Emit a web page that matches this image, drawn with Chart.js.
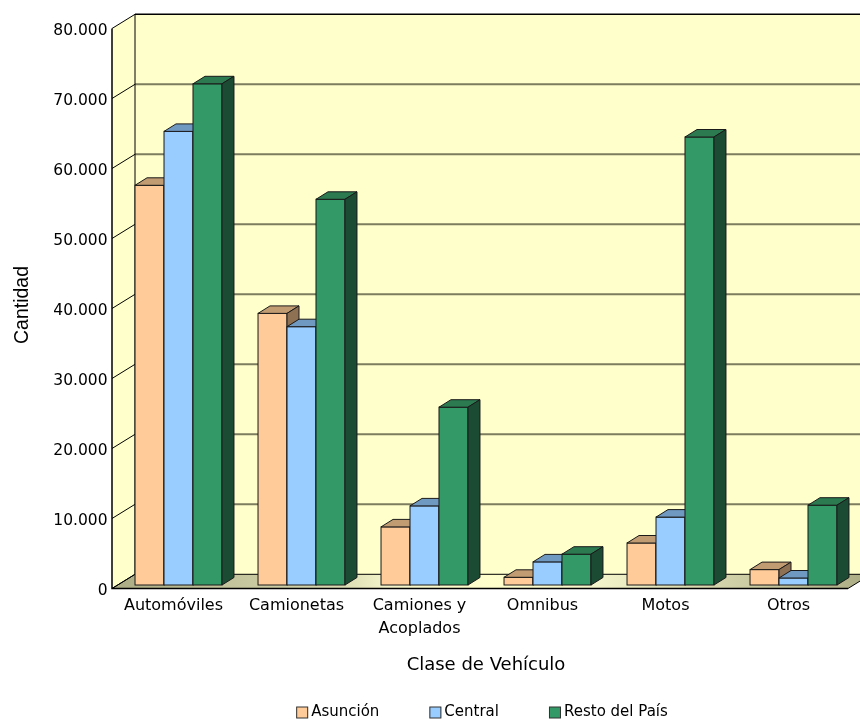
<!DOCTYPE html>
<html><head><meta charset="utf-8">
<script src="https://cdn.jsdelivr.net/npm/chart.js@4"></script>
<style>html,body{margin:0;padding:0;background:#fff}#wrap{width:860px;height:719px;position:relative}</style>
</head><body><div id="wrap"><canvas id="c"></canvas></div>
<script>
const categories = ['Automóviles', 'Camionetas', ['Camiones y', 'Acoplados'], 'Omnibus', 'Motos', 'Otros'];
const seriesNames = ['Asunción', 'Central', 'Resto del País'];
const asuncion = [57100, 38800, 8300, 1100, 6000, 2200];
const central  = [64800, 36900, 11300, 3300, 9700, 1000];
const resto    = [71600, 55100, 25400, 4400, 64000, 11400];
const yTickLabels = ['0', '10.000', '20.000', '30.000', '40.000', '50.000', '60.000', '70.000', '80.000'];
const xTitle = 'Clase de Vehículo';
const yTitle = 'Cantidad';

const frontColors = ['#FFCC99', '#99CCFF', '#339966'];
const topColors   = ['#C19B72', '#7099C2', '#2B7A50'];
const sideColors  = ['#8E7153', '#4E7094', '#1C4B33'];

const BAR_DX = 12, BAR_DY = -7.5;
const FRONT_X = -5, FRONT_DY = 3.5, BACK_X = 18, BACK_DY = -10.7;

const wallsPlugin = {
  id: 'walls',
  beforeDatasetsDraw(chart) {
    const ctx = chart.ctx, ca = chart.chartArea, ys = chart.scales.y;
    const W = chart.width;
    const yv = v => ys.getPixelForValue(v);
    const fx = ca.left + FRONT_X, bx = ca.left + BACK_X;
    const fy = v => yv(v) + FRONT_DY, by = v => yv(v) + BACK_DY;
    const vmax = ys.max, vmin = ys.min;
    ctx.save();
    ctx.fillStyle = '#FFFFCC';
    ctx.fillRect(bx, by(vmax), W - bx, by(vmin) - by(vmax));
    ctx.beginPath();
    ctx.moveTo(fx, fy(vmax)); ctx.lineTo(bx, by(vmax)); ctx.lineTo(bx, by(vmin)); ctx.lineTo(fx, fy(vmin)); ctx.closePath();
    ctx.fillStyle = '#FFFFCC'; ctx.fill();
    const frx = ca.right - 7;
    const g = ctx.createLinearGradient(fx, 0, frx + (bx - fx), 0);
    g.addColorStop(0, '#ABAB84');
    g.addColorStop(0.3, '#DADAB2');
    g.addColorStop(0.36, '#F4F4CA');
    g.addColorStop(0.5, '#FFFFCC');
    g.addColorStop(0.64, '#F4F4CA');
    g.addColorStop(1, '#ABAB84');
    ctx.beginPath();
    ctx.moveTo(fx, fy(vmin)); ctx.lineTo(bx, by(vmin)); ctx.lineTo(frx + (bx - fx), by(vmin)); ctx.lineTo(frx, fy(vmin)); ctx.closePath();
    ctx.fillStyle = g; ctx.fill();
    ctx.strokeStyle = '#000'; ctx.lineWidth = 1; ctx.stroke();
    const ticks = ys.ticks.map(t => t.value);
    ctx.strokeStyle = '#7C7C5E'; ctx.lineWidth = 2;
    ticks.forEach(v => {
      if (v <= vmin || v >= vmax) return;
      ctx.beginPath(); ctx.moveTo(bx, by(v)); ctx.lineTo(W, by(v)); ctx.stroke();
    });
    ctx.strokeStyle = '#000'; ctx.lineWidth = 1;
    ticks.forEach(v => {
      ctx.beginPath(); ctx.moveTo(fx, fy(v)); ctx.lineTo(bx, by(v)); ctx.stroke();
    });
    ctx.lineWidth = 1.5;
    ctx.beginPath(); ctx.moveTo(bx, by(vmax)); ctx.lineTo(W, by(vmax)); ctx.stroke();
    ctx.lineWidth = 1;
    ctx.beginPath(); ctx.moveTo(bx, by(vmax)); ctx.lineTo(bx, by(vmin)); ctx.stroke();
    ctx.lineWidth = 1.5;
    ctx.beginPath(); ctx.moveTo(fx, fy(vmax)); ctx.lineTo(fx, fy(vmin)); ctx.lineTo(frx, fy(vmin)); ctx.stroke();
    ctx.restore();
  }
};

const bars3dPlugin = {
  id: 'bars3d',
  afterDatasetsDraw(chart) {
    const ctx = chart.ctx;
    const metas = chart.data.datasets.map((d, i) => chart.getDatasetMeta(i));
    ctx.save();
    ctx.strokeStyle = '#1A1A1A'; ctx.lineWidth = 1; ctx.lineJoin = 'miter';
    for (let i = 0; i < categories.length; i++) {
      metas.forEach((meta, d) => {
        const el = meta.data[i];
        const p = el.getProps(['x', 'y', 'base', 'width'], true);
        const l = p.x - p.width / 2, r = p.x + p.width / 2, t = Math.min(p.y, p.base), b = Math.max(p.y, p.base);
        ctx.fillStyle = frontColors[d];
        ctx.fillRect(l, t, r - l, b - t);
        ctx.strokeRect(l, t, r - l, b - t);
        ctx.beginPath();
        ctx.moveTo(l, t); ctx.lineTo(l + BAR_DX, t + BAR_DY); ctx.lineTo(r + BAR_DX, t + BAR_DY); ctx.lineTo(r, t); ctx.closePath();
        ctx.fillStyle = topColors[d]; ctx.fill(); ctx.stroke();
        ctx.beginPath();
        ctx.moveTo(r, t); ctx.lineTo(r + BAR_DX, t + BAR_DY); ctx.lineTo(r + BAR_DX, b + BAR_DY); ctx.lineTo(r, b); ctx.closePath();
        ctx.fillStyle = sideColors[d]; ctx.fill(); ctx.stroke();
      });
    }
    ctx.restore();
  }
};

const legendPlugin = {
  id: 'legend3d',
  afterDraw(chart) {
    const ctx = chart.ctx, ca = chart.chartArea;
    ctx.save();
    ctx.font = '15px "DejaVu Sans"';
    ctx.textBaseline = 'middle';
    const box = 12, gapText = 3, gap = 50;
    const widths = seriesNames.map(n => box + gapText + ctx.measureText(n).width);
    const total = widths.reduce((a, b) => a + b, 0) + gap * (seriesNames.length - 1);
    let x = (ca.left + ca.right) / 2 - 4 - total / 2;
    const yc = 712.5;
    seriesNames.forEach((n, i) => {
      ctx.fillStyle = frontColors[i];
      ctx.fillRect(x, yc - 5.5, box, 11);
      ctx.strokeStyle = '#333'; ctx.lineWidth = 1;
      ctx.strokeRect(x + 0.5, yc - 5.5, box - 1, 11);
      ctx.fillStyle = '#000';
      ctx.fillText(n, x + box + gapText, yc);
      x += widths[i] + gap;
    });
    ctx.restore();
  }
};

const seriesData = [asuncion, central, resto];
new Chart(document.getElementById('c'), {
  type: 'bar',
  data: {
    labels: categories,
    datasets: seriesNames.map((n, i) => ({
      label: n,
      data: seriesData[i],
      backgroundColor: frontColors[i],
      borderColor: '#1A1A1A',
      borderWidth: 1,
      categoryPercentage: 0.707,
      barPercentage: 1
    }))
  },
  options: {
    responsive: true,
    maintainAspectRatio: false,
    animation: false,
    devicePixelRatio: 1,
    layout: { padding: { top: 25, right: 5, bottom: 30, left: 0 } },
    plugins: { legend: { display: false }, tooltip: { enabled: false } },
    scales: {
      x: {
        grid: { display: false, drawTicks: false },
        border: { display: false },
        ticks: { color: '#000', font: { family: 'DejaVu Sans', size: 16, lineHeight: 1.4 }, padding: 10, labelOffset: -5, maxRotation: 0, autoSkip: false },
        title: { display: true, text: xTitle, color: '#000', font: { family: 'DejaVu Sans', size: 18, lineHeight: 1.2 }, padding: { top: 0, bottom: 13.2 } },
        afterFit(s) { s.height = 104; }
      },
      y: {
        min: 0, max: 80000,
        grid: { display: false, drawTicks: false },
        border: { display: false },
        ticks: { stepSize: 10000, color: '#000', font: { family: 'DejaVu Sans', size: 15.5 }, padding: 9.5, labelOffset: 5.5,
          callback: v => yTickLabels[Math.round(v / 10000)] },
        title: { display: true, text: yTitle, color: '#000', font: { family: 'Liberation Sans', size: 19.5, lineHeight: 1.2 }, padding: { top: 11, bottom: 0 } },
        afterFit(s) { s.width = 117; }
      }
    }
  },
  plugins: [wallsPlugin, bars3dPlugin, legendPlugin]
});
</script></body></html>
